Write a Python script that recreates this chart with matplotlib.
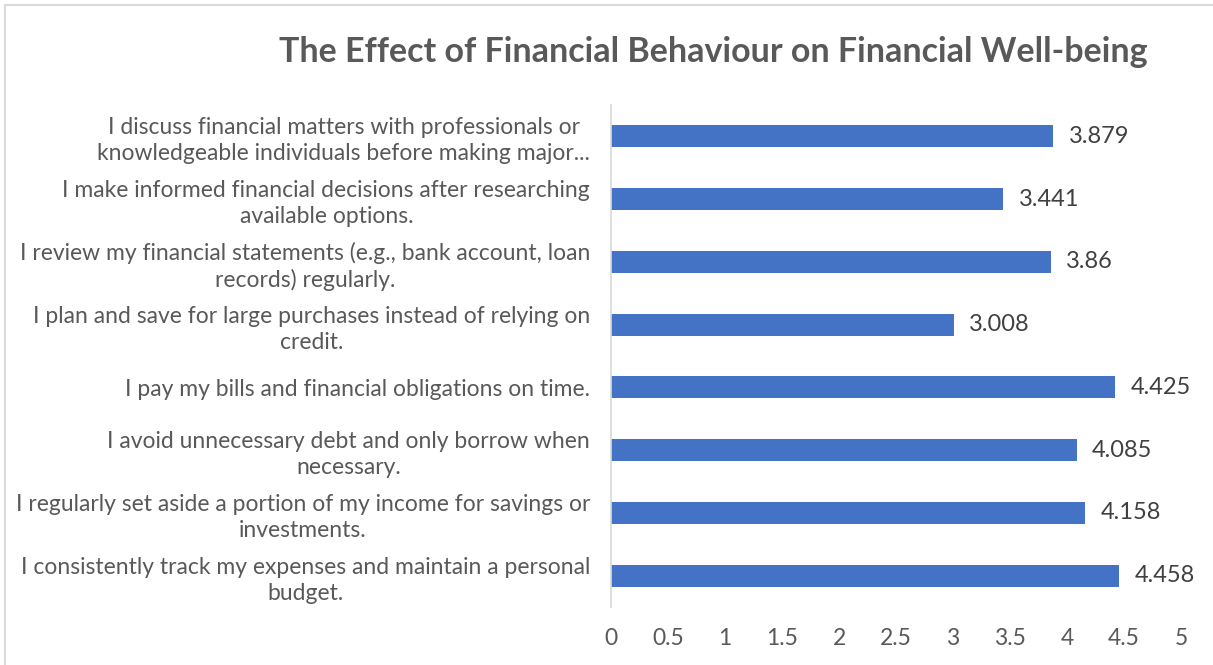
import matplotlib.pyplot as plt
from matplotlib.patches import Rectangle

# Mean scores per financial behaviour statement (top to bottom)
statements = [
    "I discuss financial matters with professionals or\nknowledgeable individuals before making major...",
    "I make informed financial decisions after researching\navailable options.",
    "I review my financial statements (e.g., bank account, loan\nrecords) regularly.",
    "I plan and save for large purchases instead of relying on\ncredit.",
    "I pay my bills and financial obligations on time.",
    "I avoid unnecessary debt and only borrow when\nnecessary.",
    "I regularly set aside a portion of my income for savings or\ninvestments.",
    "I consistently track my expenses and maintain a personal\nbudget.",
]
scores = [3.879, 3.441, 3.86, 3.008, 4.425, 4.085, 4.158, 4.458]
x_ticks = [0, 0.5, 1, 1.5, 2, 2.5, 3, 3.5, 4, 4.5, 5]

plt.rcParams['font.family'] = ['Lato', 'DejaVu Sans']
grey = '#595959'
blue = '#4472C4'

W, H = 1213, 665
fig = plt.figure(figsize=(W / 100, H / 100), dpi=100)
ax = fig.add_axes([611 / W, 1 - 607 / H, 570 / W, 502 / H])

pos = list(range(len(statements)))
ax.barh(pos, scores, height=0.35, color=blue)
ax.set_ylim(len(statements) - 0.5, -0.5)
ax.set_xlim(0, 5)

for y, v in zip(pos, scores):
    ax.annotate(f"{v:g}", (v, y), xytext=(11, 0), textcoords='offset points',
                va='center', ha='left', fontsize=17, color='#404040')

ax.set_yticks(pos)
ax.set_yticklabels(statements, fontsize=16.5, color=grey,
                   multialignment='center', linespacing=1.3)
ax.set_xticks(x_ticks)
ax.set_xticklabels([f"{t:g}" for t in x_ticks], fontsize=16.5, color=grey)
ax.tick_params(axis='y', length=0, pad=15)
ax.tick_params(axis='x', length=0, pad=15)

for side in ['top', 'right', 'bottom']:
    ax.spines[side].set_visible(False)
ax.spines['left'].set_color('#d9d9d9')
ax.spines['left'].set_linewidth(1.2)

fig.text(713 / W, 1 - 52 / H, "The Effect of Financial Behaviour on Financial Well-being",
         ha='center', va='center', fontsize=24.5, fontweight='bold', color=grey)

# chart area frame
fig.patches.append(Rectangle((5 / W, -0.1), 1.2, 1 - 5 / H + 0.1,
                             transform=fig.transFigure, fill=False,
                             edgecolor='#d9d9d9', linewidth=1.5))

fig.savefig('out.png', dpi=100)
